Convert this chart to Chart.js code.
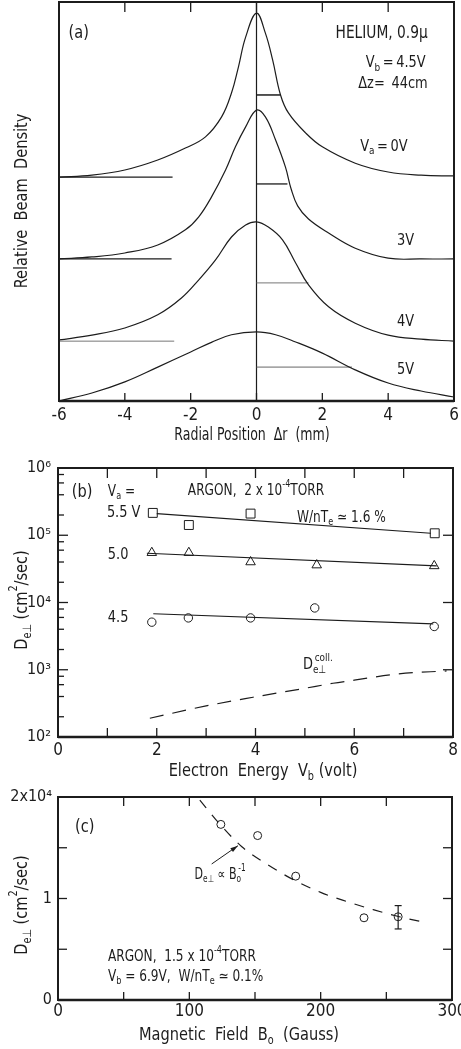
<!DOCTYPE html>
<html>
<head>
<meta charset="utf-8">
<script src="https://cdn.jsdelivr.net/npm/chart.js@4.4.1/dist/chart.umd.min.js"></script>
<style>
  body { margin: 0; background: #fff; width: 461px; height: 1049px; position: relative; overflow: hidden; }
  canvas { position: absolute; left: 0; }
</style>
</head>
<body>
<canvas id="chartA" width="461" height="452" style="top:0"></canvas>
<canvas id="chartB" width="461" height="330" style="top:452px"></canvas>
<canvas id="chartC" width="461" height="267" style="top:782px"></canvas>
<script>
// (a) beam profiles: relative density vs radial position (mm)
const rad0V = [-6, -5, -4, -3, -2.16, -1.55, -1.06, -0.76, -0.55, -0.33, 0, 0.27, 0.49, 0.73, 0.97, 1.49, 2, 3, 4, 5, 6];
const dens0V = [56.1, 56.6, 57.9, 60.4, 63.4, 66.2, 71.2, 77.2, 83.7, 91.2, 97.2, 92.2, 85.5, 76.7, 72.2, 67.2, 63.7, 59.6, 57.4, 56.6, 56.4];
const rad3V = [-6, -5, -4, -3, -2.16, -1.76, -1.37, -0.94, -0.64, -0.33, 0, 0.27, 0.58, 0.88, 1.05, 1.25, 1.58, 2.19, 3, 4, 5, 6];
const dens3V = [35.6, 36.1, 37.1, 39.1, 42.9, 46.1, 51.1, 57.9, 63.7, 68.7, 72.9, 71.2, 65.4, 58.6, 53.2, 48.9, 45.6, 42.1, 38.3, 35.8, 35.6, 35.6];
const rad4V = [-6, -5, -4, -3, -2.28, -1.76, -1.25, -0.76, -0.33, 0, 0.36, 0.79, 1.19, 1.58, 2.19, 3, 4, 5, 6];
const dens4V = [15.3, 16.5, 18.3, 21.6, 25.8, 30.3, 35.3, 41.1, 44.1, 44.9, 43.6, 40.4, 34.6, 29.1, 23.6, 19.5, 16.5, 15.5, 15.0];
const rad5V = [-6, -5, -4, -3, -2, -1.37, -0.76, 0, 0.58, 1.19, 2, 3, 4, 5, 6];
const dens5V = [0, 2.0, 4.8, 8.5, 12.3, 14.7, 16.6, 17.3, 16.6, 14.8, 12.0, 7.8, 4.5, 2.5, 1.0];
// baselines drawn on the left, half-maximum marks on the right (0V, 3V, 4V, 5V)
const baseLevel = [56.1, 35.6, 15.0];
const baseEnd = [-2.55, -2.58, -2.5];
const halfLevel = [76.7, 54.4, 29.6, 8.5];
const halfEnd = [0.73, 0.94, 1.58, 2.9];
const radialTicks = [-4, -2, 0, 2, 4];

// (b) D_perp vs electron energy, argon
const energySq = [1.92, 2.65, 3.9, 7.63];
const diffSq = [2.15e5, 1.42e5, 2.1e5, 1.07e5];
const energyTri = [1.9, 2.65, 3.9, 5.24, 7.62];
const diffTri = [5.5e4, 5.5e4, 4.0e4, 3.6e4, 3.5e4];
const energyCirc = [1.9, 2.64, 3.9, 5.2, 7.62];
const diffCirc = [5.1e3, 5.9e3, 5.9e3, 8.3e3, 4.4e3];
const fitEnergy55 = [2.0, 7.55], fitDiff55 = [2.09e5, 1.07e5];
const fitEnergy50 = [1.8, 7.67], fitDiff50 = [5.4e4, 3.5e4];
const fitEnergy45 = [1.93, 7.6], fitDiff45 = [6.8e3, 4.8e3];
const collEnergy = [1.86, 3, 3.95, 5, 5.57, 6, 6.9, 7.87];
const collDiff = [190, 290, 390, 530, 630, 700, 870, 960];
const energyTicks = [1, 2, 3, 4, 5, 6, 7];
const decadeTicks = [1e3, 1e4, 1e5];
const minorTicks = [2e2, 4e2, 6e2, 8e2, 2e3, 4e3, 6e3, 8e3, 2e4, 4e4, 6e4, 8e4, 2e5, 4e5, 6e5, 8e5];

// (c) D_perp vs magnetic field
const fieldB = [124, 152, 181, 233, 259];
const diffB = [1.73, 1.62, 1.22, 0.81, 0.82];
const errField = [259, 259], errDiff = [0.70, 0.93];
const fitField = [108, 120, 140, 160, 180, 200, 220, 240, 260, 281];
const fitDiffB = [1.97, 1.78, 1.51, 1.33, 1.18, 1.06, 0.97, 0.89, 0.82, 0.76];
const fieldTicks = [50, 100, 150, 200, 250];
const diffTicksC = [0.5, 1, 1.5];

const FONT = "'Liberation Sans Narrow', 'DejaVu Sans Condensed', 'Liberation Sans', sans-serif";
const INK = '#1c1c1c';
Chart.defaults.font.family = FONT;
Chart.defaults.color = INK;
Chart.defaults.animation = false;
Chart.defaults.events = [];
Chart.defaults.plugins.legend.display = false;
Chart.defaults.plugins.tooltip.enabled = false;

const pts = (xs, ys) => xs.map((x, i) => ({ x, y: ys[i] }));
const SUP = { '2': '²', '3': '³', '4': '⁴', '5': '⁵', '6': '⁶' };

// parts: [text, mode]; mode '' | 'sub' | 'sup' | 'over' (superscript stacked above the previous piece)
function richText(ctx, parts, x, y, size, align, rot, sx) {
  ctx.save();
  ctx.translate(x, y);
  if (rot) ctx.rotate(rot);
  ctx.scale(sx || 0.9, 1);
  let cx = 0, prevStart = 0;
  const segs = parts.map(([t, m]) => {
    const fs = m ? Math.round(size * 0.68) : size;
    ctx.font = fs + 'px ' + FONT;
    const sw = ctx.measureText(t).width;
    let x0;
    if (m === 'over') { x0 = prevStart + 2; cx = Math.max(cx, x0 + sw); }
    else { x0 = cx; prevStart = cx; cx += sw; }
    return { t, m, fs, x0 };
  });
  const shift = align === 'center' ? -cx / 2 : align === 'right' ? -cx : 0;
  ctx.textBaseline = 'middle';
  ctx.textAlign = 'left';
  ctx.fillStyle = INK;
  segs.forEach(s => {
    ctx.font = s.fs + 'px ' + FONT;
    const dy = s.m === 'sub' ? size * 0.3 : (s.m === 'sup' || s.m === 'over') ? -size * 0.45 : 0;
    ctx.fillText(s.t, s.x0 + shift, dy);
  });
  ctx.restore();
}

// frame, inward tick marks, arrows and text
function decor(spec) {
  return {
    id: 'decor',
    afterDraw(chart) {
      const ctx = chart.ctx, ca = chart.chartArea;
      ctx.save();
      ctx.strokeStyle = INK;
      ctx.lineWidth = 2;
      ctx.strokeRect(ca.left, ca.top, ca.right - ca.left, ca.bottom - ca.top);
      ctx.lineWidth = 2.5;
      ctx.beginPath(); ctx.moveTo(ca.left, ca.bottom); ctx.lineTo(ca.right, ca.bottom); ctx.stroke();
      ctx.lineWidth = 1.3;
      (spec.ticks || []).forEach(t => {
        const sc = chart.scales[t.axis];
        t.values.forEach(v => {
          const p = sc.getPixelForValue(v);
          ctx.beginPath();
          if (t.side === 'bottom') { ctx.moveTo(p, ca.bottom); ctx.lineTo(p, ca.bottom - t.len); }
          else if (t.side === 'top') { ctx.moveTo(p, ca.top); ctx.lineTo(p, ca.top + t.len); }
          else if (t.side === 'left') { ctx.moveTo(ca.left, p); ctx.lineTo(ca.left + t.len, p); }
          else { ctx.moveTo(ca.right, p); ctx.lineTo(ca.right - t.len, p); }
          ctx.stroke();
        });
      });
      (spec.arrows || []).forEach(a => {
        const x0 = chart.scales.x.getPixelForValue(a.from[0]), y0 = chart.scales.y.getPixelForValue(a.from[1]);
        const x1 = chart.scales.x.getPixelForValue(a.to[0]), y1 = chart.scales.y.getPixelForValue(a.to[1]);
        const ang = Math.atan2(y1 - y0, x1 - x0);
        ctx.lineWidth = 1;
        ctx.beginPath(); ctx.moveTo(x0, y0); ctx.lineTo(x1, y1); ctx.stroke();
        ctx.fillStyle = INK;
        ctx.beginPath();
        ctx.moveTo(x1, y1);
        ctx.lineTo(x1 - 8 * Math.cos(ang - 0.3), y1 - 8 * Math.sin(ang - 0.3));
        ctx.lineTo(x1 - 8 * Math.cos(ang + 0.3), y1 - 8 * Math.sin(ang + 0.3));
        ctx.closePath(); ctx.fill();
      });
      (spec.texts || []).forEach(n => {
        const x = n.abs ? n.x : chart.scales.x.getPixelForValue(n.x);
        const y = n.abs ? n.y : chart.scales.y.getPixelForValue(n.y);
        richText(ctx, n.parts, x, y, n.size || 16, n.align || 'left', n.rot || 0, n.sx);
      });
      ctx.restore();
    }
  };
}

const fixW = w => scale => { scale.width = w; scale.paddingTop = 0; scale.paddingBottom = 0; };
const fixH = h => scale => { scale.height = h; scale.paddingLeft = 0; scale.paddingRight = 0; };
const plainGrid = { display: false };
const noBorder = { display: false };

const curve = (xs, ys) => ({ data: pts(xs, ys), borderColor: INK, borderWidth: 1.2, pointRadius: 0, tension: 0.4 });
const segment = (x0, x1, y, color, w) => ({ data: [{ x: x0, y }, { x: x1, y }], borderColor: color, borderWidth: w, pointRadius: 0 });
const rot = -Math.PI / 2;
const T = '\u2009';

// ---------- panel (a)
new Chart(document.getElementById('chartA'), {
  type: 'line',
  data: {
    datasets: [
      curve(rad0V, dens0V), curve(rad3V, dens3V), curve(rad4V, dens4V), curve(rad5V, dens5V),
      segment(-6, baseEnd[0], baseLevel[0], INK, 1.4),
      segment(-6, baseEnd[1], baseLevel[1], INK, 1.2),
      segment(-6, baseEnd[2], baseLevel[2], '#777', 1),
      segment(0, halfEnd[0], halfLevel[0], INK, 1.5),
      segment(0, halfEnd[1], halfLevel[1], INK, 1.3),
      segment(0, halfEnd[2], halfLevel[2], '#777', 1),
      segment(0, halfEnd[3], halfLevel[3], '#666', 1),
      { data: [{ x: 0, y: 0 }, { x: 0, y: 100 }], borderColor: INK, borderWidth: 1.2, pointRadius: 0 }
    ]
  },
  options: {
    responsive: false,
    layout: { padding: { left: 59, right: 7, top: 2, bottom: 0 } },
    scales: {
      x: {
        type: 'linear', min: -6, max: 6,
        grid: plainGrid, border: noBorder,
        ticks: { stepSize: 2, font: { size: 17 }, padding: -4, maxRotation: 0 },
        afterFit: fixH(51)
      },
      y: { type: 'linear', min: 0, max: 100, display: false }
    }
  },
  plugins: [decor({
    ticks: [
      { axis: 'x', side: 'top', values: radialTicks, len: 10 },
      { axis: 'x', side: 'bottom', values: radialTicks, len: 8 }
    ],
    texts: [
      { x: -5.71, y: 92.2, parts: [['(a)']], size: 18 },
      { x: 5.2, y: 92.2, parts: [['HELIUM, 0.9μ']], size: 17, align: 'right' },
      { x: 5.14, y: 84.7, parts: [['V'], ['b', 'sub'], [T + '=' + T + '4.5V']], align: 'right' },
      { x: 5.2, y: 79.4, parts: [['Δz=' + T + ' 44cm']], align: 'right' },
      { x: 4.59, y: 63.7, parts: [['V'], ['a', 'sub'], [T + '=' + T + '0V']], align: 'right' },
      { x: 4.53, y: 40.1, parts: [['3V']], align: 'center' },
      { x: 4.53, y: 19.8, parts: [['4V']], align: 'center' },
      { x: 4.53, y: 7.8, parts: [['5V']], align: 'center' },
      { abs: true, x: 22, y: 201, parts: [['Relative  Beam  Density']], size: 18, align: 'center', rot },
      { abs: true, x: 252, y: 436, parts: [['Radial Position  Δr  (mm)']], size: 17, align: 'center', sx: 0.82 }
    ]
  })]
});

// ---------- panel (b)
const openMark = (xs, ys, style, r) => ({
  data: pts(xs, ys), showLine: false, pointStyle: style, pointRadius: r,
  borderColor: INK, borderWidth: 1, backgroundColor: '#fff'
});
const dotMark = (xs, ys) => ({ data: pts(xs, ys), showLine: false, pointRadius: 0.9, borderWidth: 0, backgroundColor: INK });
const straight = (xs, ys) => ({ data: pts(xs, ys), borderColor: INK, borderWidth: 1.2, pointRadius: 0 });

new Chart(document.getElementById('chartB'), {
  type: 'line',
  data: {
    datasets: [
      straight(fitEnergy55, fitDiff55), straight(fitEnergy50, fitDiff50), straight(fitEnergy45, fitDiff45),
      { data: pts(collEnergy, collDiff), borderColor: INK, borderWidth: 1.2, borderDash: [14, 9], pointRadius: 0, cubicInterpolationMode: 'monotone' },
      openMark(energySq, diffSq, 'rect', 6.3), dotMark(energySq, diffSq),
      openMark(energyTri, diffTri, 'triangle', 5.5),
      openMark(energyCirc, diffCirc, 'circle', 4.2), dotMark(energyCirc, diffCirc)
    ]
  },
  options: {
    responsive: false,
    layout: { padding: { left: 0, right: 8, top: 16, bottom: 0 } },
    scales: {
      x: {
        type: 'linear', min: 0, max: 8,
        grid: plainGrid, border: noBorder,
        ticks: { stepSize: 2, font: { size: 17 }, padding: -5, maxRotation: 0 },
        afterFit: fixH(45)
      },
      y: {
        type: 'logarithmic', min: 100, max: 1e6,
        grid: plainGrid, border: noBorder,
        afterBuildTicks: scale => { scale.ticks = [1e2, 1e3, 1e4, 1e5, 1e6].map(v => ({ value: v })); },
        ticks: { font: { size: 16 }, padding: -1, callback: v => '10' + SUP[String(Math.round(Math.log10(v)))] },
        afterFit: fixW(58)
      }
    }
  },
  plugins: [decor({
    ticks: [
      { axis: 'x', side: 'top', values: energyTicks, len: 10 },
      { axis: 'x', side: 'bottom', values: energyTicks, len: 9 },
      { axis: 'y', side: 'left', values: decadeTicks, len: 10 },
      { axis: 'y', side: 'left', values: minorTicks, len: 6 },
      { axis: 'y', side: 'right', values: decadeTicks, len: 10 }
    ],
    texts: [
      { x: 0.28, y: 4.4e5, parts: [['(b)']], size: 18 },
      { x: 1.01, y: 4.4e5, parts: [['V'], ['a', 'sub'], [' =']], size: 15 },
      { x: 2.63, y: 4.6e5, parts: [['ARGON,  2 x 10'], ['-4', 'sup'], ['TORR']], size: 15 },
      { x: 0.99, y: 2.15e5, parts: [['5.5 V']], size: 16 },
      { x: 4.84, y: 1.8e5, parts: [['W/nT'], ['e', 'sub'], [' ≃ 1.6 %']], size: 15 },
      { x: 1.01, y: 5.1e4, parts: [['5.0']], size: 16 },
      { x: 1.01, y: 6.0e3, parts: [['4.5']], size: 16 },
      { x: 4.96, y: 1.17e3, parts: [['D'], ['e⊥', 'sub'], ['coll.', 'over']], size: 16 },
      { abs: true, x: 22, y: 148, parts: [['D'], ['e⊥', 'sub'], [' (cm'], ['2', 'sup'], ['/sec)']], size: 18, align: 'center', rot },
      { abs: true, x: 263, y: 319, parts: [['Electron  Energy  V'], ['b', 'sub'], [' (volt)']], size: 18, align: 'center' }
    ]
  })]
});

// ---------- panel (c)
new Chart(document.getElementById('chartC'), {
  type: 'line',
  data: {
    datasets: [
      { data: pts(fitField, fitDiffB), borderColor: INK, borderWidth: 1.2, borderDash: [10, 9], pointRadius: 0, cubicInterpolationMode: 'monotone' },
      { data: pts(errField, errDiff), borderColor: INK, borderWidth: 1.2, pointStyle: 'line', pointRadius: 3.5, pointBorderWidth: 1.2 },
      openMark(fieldB, diffB, 'circle', 4)
    ]
  },
  options: {
    responsive: false,
    layout: { padding: { left: 0, right: 9, top: 15, bottom: 0 } },
    scales: {
      x: {
        type: 'linear', min: 0, max: 300,
        grid: plainGrid, border: noBorder,
        ticks: { stepSize: 100, font: { size: 17 }, padding: -7, maxRotation: 0 },
        afterFit: fixH(49)
      },
      y: {
        type: 'linear', min: 0, max: 2,
        grid: plainGrid, border: noBorder,
        afterBuildTicks: scale => { scale.ticks = [0, 1, 2].map(v => ({ value: v })); },
        ticks: { font: { size: 16 }, padding: -2, callback: v => (v === 2 ? '2x10⁴' : String(v)) },
        afterFit: fixW(58)
      }
    }
  },
  plugins: [decor({
    ticks: [
      { axis: 'x', side: 'top', values: fieldTicks, len: 9 },
      { axis: 'x', side: 'bottom', values: fieldTicks, len: 8 },
      { axis: 'y', side: 'left', values: diffTicksC, len: 9 },
      { axis: 'y', side: 'right', values: diffTicksC, len: 9 }
    ],
    arrows: [{ from: [117, 1.34], to: [137, 1.52] }],
    texts: [
      { x: 13, y: 1.70, parts: [['(c)']], size: 18 },
      { x: 104, y: 1.23, parts: [['D'], ['e⊥', 'sub'], [' ∝ B'], ['o', 'sub'], ['-1', 'over']], size: 15, sx: 0.82 },
      { x: 38, y: 0.42, parts: [['ARGON,  1.5 x 10'], ['-4', 'sup'], ['TORR']], size: 15 },
      { x: 38, y: 0.23, parts: [['V'], ['b', 'sub'], [' = 6.9V,  W/nT'], ['e', 'sub'], [' ≃ 0.1%']], size: 15 },
      { abs: true, x: 22, y: 123, parts: [['D'], ['e⊥', 'sub'], [' (cm'], ['2', 'sup'], ['/sec)']], size: 18, align: 'center', rot },
      { abs: true, x: 239, y: 253, parts: [['Magnetic  Field  B'], ['o', 'sub'], ['  (Gauss)']], size: 18, align: 'center' }
    ]
  })]
});
</script>
</body>
</html>
